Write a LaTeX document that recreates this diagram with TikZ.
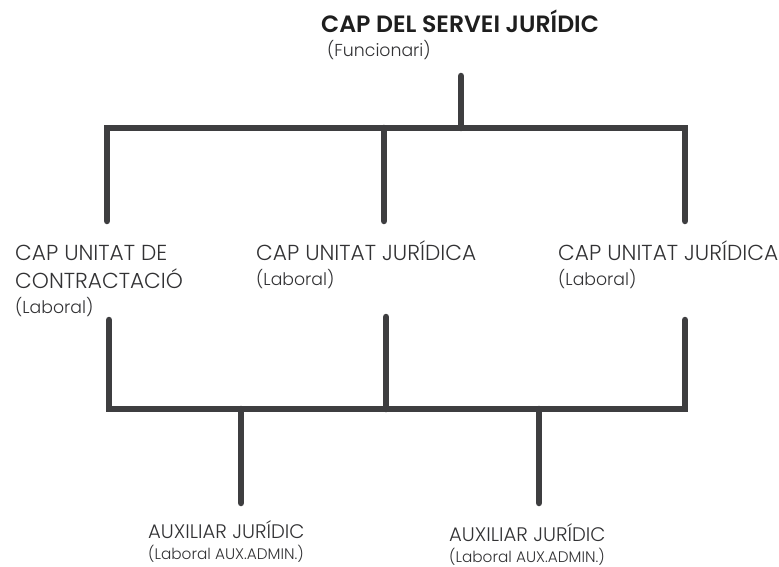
\documentclass[tikz,border=0pt]{standalone}
\usepackage{fontspec}
\setmainfont{Poppins}
\newfontfamily\lightf{Poppins Light}
\newfontfamily\boldf{Poppins SemiBold}
\begin{document}
\begin{tikzpicture}[x=1pt,y=-1pt,
  conn/.style={line width=6.5pt,line cap=round,line join=miter,draw={rgb,255:red,62;green,62;blue,64}},
  big/.style={font=\lightf\fontsize{21.7}{28}\selectfont,text={rgb,255:red,50;green,50;blue,52},inner sep=0pt,anchor=base west,align=left},
  small/.style={font=\lightf\fontsize{17.3}{20}\selectfont,text={rgb,255:red,50;green,50;blue,52},inner sep=0pt,anchor=base west},
  head/.style={font=\boldf\fontsize{23.6}{26}\selectfont,text={rgb,255:red,30;green,30;blue,30},inner sep=0pt,anchor=base west}]
\useasboundingbox (0,0) rectangle (779,567);
% texts
\node[head] (top) at (321,33) {CAP DEL SERVEI JURÍDIC};
\node[small] (topsub) at (327,57) {(Funcionari)};
\node[big] (l1) at (15,260) {CAP UNITAT DE};
\node[big] (l2) at (15,288) {CONTRACTACIÓ};
\node[small] (l3) at (15,313) {(Laboral)};
\node[big] (m1) at (256,260) {CAP UNITAT JURÍDICA};
\node[small] (m2) at (256,285) {(Laboral)};
\node[big] (r1) at (558,260) {CAP UNITAT JURÍDICA};
\node[small] (r2) at (558,285) {(Laboral)};
\node[big,font=\lightf\fontsize{19.6}{22}\selectfont] (a1) at (148,538) {AUXILIAR JURÍDIC};
\node[small,font=\lightf\fontsize{15.3}{18}\selectfont] (a2) at (148,559) {(Laboral AUX.ADMIN.)};
\node[big,font=\lightf\fontsize{19.6}{22}\selectfont] (b1) at (449,541) {AUXILIAR JURÍDIC};
\node[small,font=\lightf\fontsize{15.3}{18}\selectfont] (b2) at (449,562) {(Laboral AUX.ADMIN.)};
% connector points
\coordinate (t0) at (461,76);
\coordinate (tj) at (461,128);
\coordinate (hl) at (107,128);
\coordinate (hm) at (384,128);
\coordinate (hr) at (685,128);
\coordinate (dl) at (107,221);
\coordinate (dm) at (384,221);
\coordinate (dr) at (685,221);
\coordinate (ul) at (109,320);
\coordinate (um) at (386,317);
\coordinate (ur) at (685,320);
\coordinate (bl) at (109,409);
\coordinate (bm) at (386,409);
\coordinate (br) at (685,409);
\coordinate (ba) at (241,409);
\coordinate (bb) at (539,409);
\coordinate (ea) at (241,503);
\coordinate (eb) at (539,503);
\draw[conn] (t0) -- (tj);
\draw[conn] (dl) -- (hl) -- (hr) -- (dr);
\draw[conn] (hm) -- (dm);
\draw[conn] (ul) -- (bl) -- (br) -- (ur);
\draw[conn] (um) -- (bm);
\draw[conn] (ba) -- (ea);
\draw[conn] (bb) -- (eb);
\end{tikzpicture}
\end{document}
